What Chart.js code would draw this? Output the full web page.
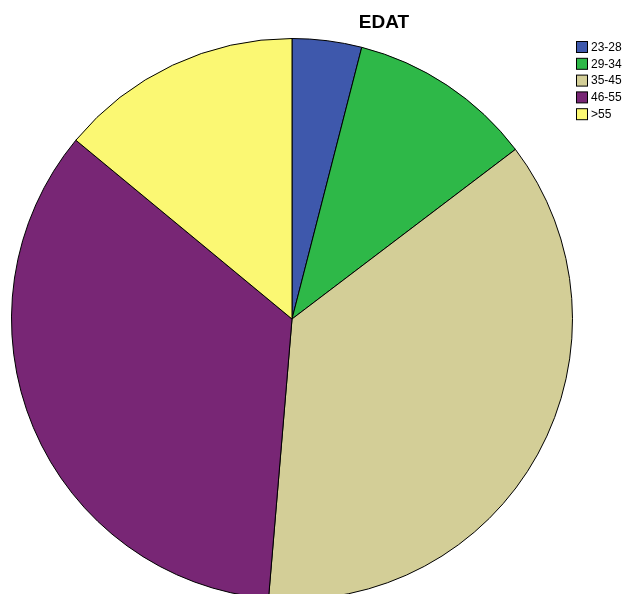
<!DOCTYPE html>
<html>
<head>
<meta charset="utf-8">
<script src="https://cdn.jsdelivr.net/npm/chart.js@4"></script>
<style>
  html, body { margin: 0; padding: 0; background: #fff; overflow: hidden; }
  canvas { display: block; }
</style>
</head>
<body>
<canvas id="pie" width="629" height="612"></canvas>
<script>
// Age groups and counts
const categories = ["23-28", "29-34", "35-45", "46-55", ">55"];
const counts = [6, 16, 55, 52, 21];
const sliceColors = ["#3e58ac", "#2eb848", "#d3ce97", "#782675", "#fbf873"];
const chartTitle = "EDAT";

// Title and boxed legend drawn on top of the pie
const overlay = {
  id: "overlay",
  afterDraw(chart) {
    const ctx = chart.ctx;
    ctx.save();
    ctx.fillStyle = "#000";
    ctx.font = "bold 19px Arial, 'Liberation Sans', sans-serif";
    ctx.textAlign = "center";
    ctx.textBaseline = "middle";
    ctx.fillText(chartTitle, 384, 23);

    ctx.font = "12px Arial, 'Liberation Sans', sans-serif";
    ctx.textAlign = "left";
    chart.data.labels.forEach((label, i) => {
      const y = 41 + i * 16.8;
      ctx.fillStyle = chart.data.datasets[0].backgroundColor[i];
      ctx.fillRect(576.5, y + 0.5, 11, 11);
      ctx.strokeStyle = "#000";
      ctx.lineWidth = 1;
      ctx.strokeRect(576.5, y + 0.5, 11, 11);
      ctx.fillStyle = "#000";
      ctx.fillText(label, 591, y + 6.5);
    });
    ctx.restore();
  }
};

new Chart(document.getElementById("pie"), {
  type: "pie",
  data: {
    labels: categories,
    datasets: [{
      data: counts,
      backgroundColor: sliceColors,
      borderColor: "#000",
      borderWidth: 1
    }]
  },
  options: {
    responsive: false,
    animation: false,
    layout: { padding: { left: 11, right: 56, top: 38, bottom: 12 } },
    plugins: {
      legend: { display: false },
      title: { display: false },
      tooltip: { enabled: false }
    }
  },
  plugins: [overlay]
});
</script>
</body>
</html>
